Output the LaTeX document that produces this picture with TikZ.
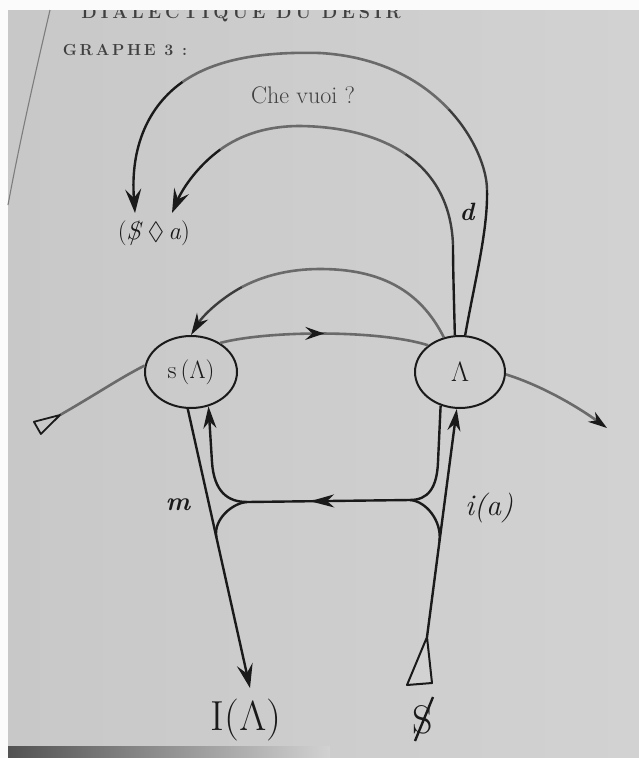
\documentclass[tikz,border=0pt]{standalone}
\usepackage{fix-cm}
\usepackage{amssymb}
\usepackage{fontspec}
\usetikzlibrary{arrows.meta,shapes.geometric,decorations.markings,calc}
\definecolor{paper}{HTML}{C8C8C8}
\definecolor{paperlt}{HTML}{D2D2D2}
\definecolor{ink}{HTML}{1A1A1A}
\definecolor{inkmid}{HTML}{3C3C3C}
\definecolor{inklt}{HTML}{6A6A6A}
\definecolor{txtgray}{HTML}{404040}
\newcommand{\barS}{\mbox{\ooalign{$S$\cr\hidewidth$/$\hidewidth\cr}}}
\newcommand{\ka}{\kern2.7pt}
\newcommand{\kb}{\kern4pt}
\tikzset{
  ovalnode/.style={ellipse, draw=ink, line width=2pt, minimum width=92pt, minimum height=72pt, inner sep=0pt, text=ink},
  lbl/.style={inner sep=0pt, text=ink},
  dk/.style={draw=ink, line width=2.4pt},
  md/.style={draw=inkmid, line width=2.4pt},
  lt/.style={draw=inklt, line width=2.6pt},
  tipbig/.style={-{Stealth[length=24pt,width=16pt,inset=9pt,color=ink]}},
  tipup/.style={-{Stealth[length=22pt,width=13pt,inset=7pt,color=ink]}},
  tipchain/.style={-{Stealth[length=19pt,width=12pt,inset=6pt,color=ink]}},
  midtip/.style 2 args={postaction={decorate}, decoration={markings, mark=at position #1 with {\arrow{Stealth[length=#2,width=13pt,inset=7pt,color=ink]}}}},
}
\begin{document}
\begin{tikzpicture}[x=1pt,y=-1pt]
\useasboundingbox (0,0) rectangle (639,758);
% paper
\fill[paper] (0,0) rectangle (639,758);
\shade[left color=paper, right color=paperlt] (8,10) rectangle (639,758);
% running head (cut by the page top)
\begin{scope}
\clip (8,10) rectangle (639,40);
\node[lbl, text=txtgray, anchor=base, font=\fontsize{18}{20}\selectfont\bfseries] (head) at (241,18) {D\kb I\kb A\kb L\kb E\kb C\kb T\kb I\kb Q\kb U\kb E\kb\ D\kb U\kb\ D\kb É\kb S\kb I\kb R};
\end{scope}
\fill[white!92!paper] (0,0) rectangle (639,10);
\fill[white!92!paper] (0,0) rectangle (8,758);
\draw[inklt!80!paper, line width=1.1pt] (50,10) .. controls (36,70) and (20,140) .. (8,205);
\shade[left color=black!68, right color=paperlt] (8,746) rectangle (330,758);

% title
\node[lbl, text=txtgray, font=\fontsize{16}{18}\selectfont\bfseries] (gr) at (125,50) {G\ka R\ka A\ka P\ka H\ka E\ka\ 3\ka\ :};

% main nodes
\node[ovalnode, font=\fontsize{25}{28}\selectfont] (sA) at (191,372) {s\,($\Lambda$)};
\node[ovalnode, minimum width=90pt, font=\fontsize{28}{30}\selectfont] (A) at (460,372) {$\Lambda$};
\node[lbl, font=\fontsize{25}{28}\selectfont] (fant) at (154,233) {(\barS\,$\lozenge$\,\textit{a})};
\node[lbl, font=\fontsize{42}{46}\selectfont] (IA) at (246,720) {I($\Lambda$)};
\node[lbl, font=\fontsize{40}{44}\selectfont] (S) at (423,720) {S};
\draw[ink, line width=2.4pt] ($(S.center)+(-8,21)$) -- ($(S.center)+(10,-23)$);

% labels
\node[lbl, text=txtgray, font=\fontsize{24}{26}\selectfont] (che) at (303,95) {Che vuoi ?};
\node[lbl, font=\fontsize{25}{26}\selectfont\bfseries\itshape] (dl) at (467,212) {d};
\node[lbl, font=\fontsize{26}{28}\selectfont\bfseries\itshape] (ml) at (178,505) {m};
\node[lbl, font=\fontsize{30}{32}\selectfont\itshape] (ial) at (489,508) {i(a)};

% named points
\coordinate (tipF1) at (135,213);
\coordinate (tipF2) at (172,213);
\coordinate (jL) at (247,502);
\coordinate (jR) at (410,500);
\coordinate (tipIA) at (250,688);
\coordinate (Sbot) at (427,637);
\coordinate (chainL) at (60,415);
\coordinate (chainR) at (607,428);
\coordinate (mL) at ($(sA.265)!0.46!(tipIA)$);
\coordinate (mR) at ($(Sbot)!0.42!(A.265)$);

% outer arc: Che vuoi ?
\draw[dk] (A.82) .. controls (475,280) and (488,230) .. (487,190);
\draw[md] (487,190) .. controls (487,170) and (475.25,137.5) .. (448.5,109.1);
\draw[lt] (448.5,109.1) .. controls (421.75,80.75) and (380,56.5) .. (320,53);
\draw[lt] (320,53) .. controls (265,51.5) and (216.25,58.25) .. (182.5,82);
\draw[dk, tipbig] (182.5,82) .. controls (148.75,105.75) and (130,146.5) .. (tipF1);

% inner arc: d
\draw[dk] (A.98) .. controls (454,300) and (453,270) .. (453,245);
\draw[md] (453,245) .. controls (451.5,202.5) and (433.25,173) .. (405.4,154);
\draw[lt] (405.4,154) .. controls (377.5,135) and (340,126.5) .. (300,126);
\draw[lt] (300,126) .. controls (267.5,126) and (241.25,134.5) .. (220.25,149.6);
\draw[dk, tipbig] (220.25,149.6) .. controls (199.25,164.75) and (183.5,186.5) .. (tipF2);

% arc from A back to s(A)
\draw[lt] (A.115) .. controls (420,290) and (380,269) .. (320,269);
\draw[lt] (320,269) .. controls (290,269) and (263.75,275.5) .. (242,287);
\draw[md, tipup] (242,287) .. controls (220.25,298.75) and (203,315.5) .. (sA.north);

% signifying chain
\draw[lt] (chainL) .. controls (95,395) and (120,378) .. (sA.172);
\draw[lt, midtip={0.5}{19pt}] (sA.45) .. controls (270,330) and (380,330) .. (A.140);
\draw[lt, tipchain] (A.-3) .. controls (540,385) and (575,405) .. (chainR);
\draw[ink, line width=1.8pt, fill=paper, line join=round] (chainL) -- ++(-19.1,19) -- ++(-7,-12.2) -- cycle;

% vertical vectors
\draw[dk, tipbig] (sA.265) -- (tipIA);
\draw[dk, tipup] (Sbot) -- (A.265);
\draw[ink, line width=2pt, fill=paperlt, line join=round] (Sbot) -- ++(5,46) -- ++(-25,2) -- cycle;

% A -> i(a) -> m -> s(A)
\draw[dk] (jR) .. controls (428,500) and (437,488) .. (438,462) -- (A.240);
\draw[dk, midtip={0.613}{24pt}] (jR) -- (jL);
\draw[dk, tipup] (jL) .. controls (228,502) and (214,492) .. (212,462) -- (sA.-63);
\draw[dk] (jL) .. controls (232,503) and (213,520) .. (mL);
\draw[dk] (jR) .. controls (426,501) and (442,521) .. (mR);
\end{tikzpicture}
\end{document}
